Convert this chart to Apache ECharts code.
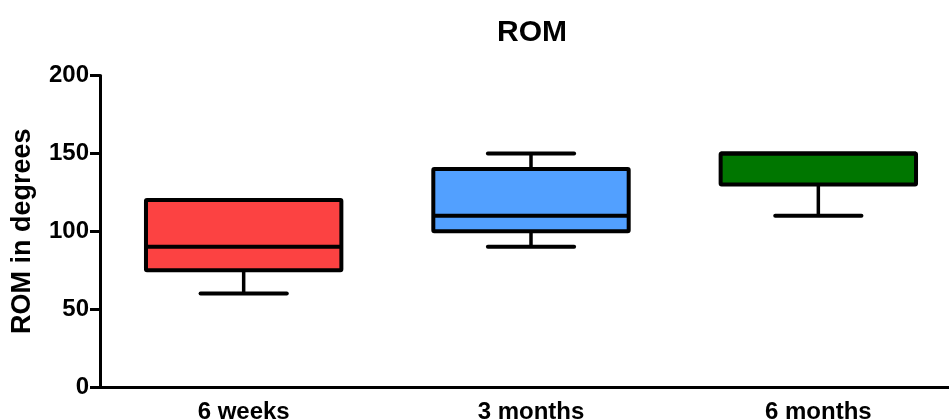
<!DOCTYPE html>
<html>
<head>
<meta charset="utf-8">
<script src="https://cdn.jsdelivr.net/npm/echarts@6/dist/echarts.min.js"></script>
<style>
  html, body { margin: 0; padding: 0; background: #fff; }
  #chart { width: 949px; height: 419px; }
</style>
</head>
<body>
<div id="chart"></div>
<script>
// Range of motion per follow-up time point (five-number summaries)
const categories = ['6 weeks', '3 months', '6 months'];
const minValues = [60, 90, 110];
const q1Values = [75, 100, 130];
const medianValues = [90, 110, 150];
const q3Values = [120, 140, 150];
const maxValues = [120, 150, 150];
const yTicks = [0, 50, 100, 150, 200];
const boxColors = ['#FC4242', '#52A0FF', '#007600'];

const FONT = '"Liberation Sans", Arial, sans-serif';

const boxData = categories.map((c, i) => [i, minValues[i], q1Values[i], medianValues[i], q3Values[i], maxValues[i]]);

function renderBox(params, api) {
  const idx = api.value(0);
  const pMin = api.coord([idx, api.value(1)]);
  const pQ1 = api.coord([idx, api.value(2)]);
  const pMed = api.coord([idx, api.value(3)]);
  const pQ3 = api.coord([idx, api.value(4)]);
  const pMax = api.coord([idx, api.value(5)]);
  const band = api.size([1, 0])[0];
  const cx = pMed[0];
  const half = band * 0.34;
  const capHalf = band * 0.15;
  const black = '#000';
  const children = [];
  if (Math.abs(pMin[1] - pQ1[1]) > 0.5) {
    children.push({ type: 'line', shape: { x1: cx, y1: pQ1[1], x2: cx, y2: pMin[1] }, style: { stroke: black, lineWidth: 3.5 } });
    children.push({ type: 'line', shape: { x1: cx - capHalf, y1: pMin[1], x2: cx + capHalf, y2: pMin[1] }, style: { stroke: black, lineWidth: 4, lineCap: 'round' } });
  }
  if (Math.abs(pMax[1] - pQ3[1]) > 0.5) {
    children.push({ type: 'line', shape: { x1: cx, y1: pQ3[1], x2: cx, y2: pMax[1] }, style: { stroke: black, lineWidth: 3.5 } });
    children.push({ type: 'line', shape: { x1: cx - capHalf, y1: pMax[1], x2: cx + capHalf, y2: pMax[1] }, style: { stroke: black, lineWidth: 4, lineCap: 'round' } });
  }
  children.push({
    type: 'rect',
    shape: { x: cx - half, y: pQ3[1], width: half * 2, height: pQ1[1] - pQ3[1], r: 1 },
    style: { fill: boxColors[idx], stroke: black, lineWidth: 4, lineJoin: 'round' }
  });
  children.push({ type: 'line', shape: { x1: cx - half, y1: pMed[1], x2: cx + half, y2: pMed[1] }, style: { stroke: black, lineWidth: 4 } });
  return { type: 'group', children };
}

const chart = echarts.init(document.getElementById('chart'), null, { renderer: 'canvas' });
chart.setOption({
  animation: false,
  backgroundColor: '#fff',
  title: {
    text: 'ROM',
    left: 527,
    textAlign: 'center',
    top: 13,
    textStyle: { fontFamily: FONT, fontWeight: 'bold', fontSize: 30, color: '#000' }
  },
  grid: { left: 100, top: 75.5, width: 862, height: 311.5, containLabel: false, outerBoundsMode: 'none' },
  xAxis: {
    type: 'category',
    data: categories,
    boundaryGap: true,
    axisLine: { lineStyle: { color: '#000', width: 3 } },
    axisTick: { alignWithLabel: true, length: 9, lineStyle: { color: '#000', width: 3 } },
    axisLabel: { fontFamily: FONT, fontWeight: 'bold', fontSize: 24, color: '#000', margin: 13, hideOverlap: false },
    splitLine: { show: false }
  },
  yAxis: {
    type: 'value',
    min: yTicks[0],
    max: yTicks[yTicks.length - 1],
    interval: yTicks[1] - yTicks[0],
    name: 'ROM in degrees',
    nameLocation: 'middle',
    nameGap: 64,
    nameTextStyle: { fontFamily: FONT, fontWeight: 'bold', fontSize: 27, color: '#000' },
    axisLine: { show: true, lineStyle: { color: '#000', width: 3 } },
    axisTick: { show: true, length: 10, lineStyle: { color: '#000', width: 3 } },
    axisLabel: { fontFamily: FONT, fontWeight: 'bold', fontSize: 24, color: '#000', margin: 11 },
    splitLine: { show: false }
  },
  series: [{
    type: 'custom',
    renderItem: renderBox,
    encode: { x: 0, y: [1, 2, 3, 4, 5] },
    data: boxData,
    clip: false
  }]
});
</script>
</body>
</html>
